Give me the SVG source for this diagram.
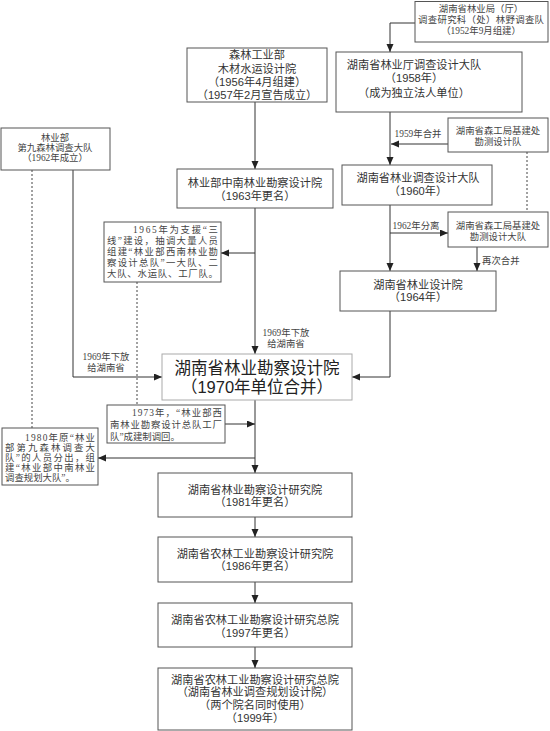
<svg xmlns="http://www.w3.org/2000/svg" width="550" height="731" viewBox="0 0 550 731">
<style>
.bg{fill:#fff}
.box{fill:#fff;stroke:#555;stroke-width:1}
.mbox{fill:#fff;stroke:#aaa;stroke-width:1}
.t{font-family:"Liberation Sans","Noto Sans CJK SC",sans-serif;font-size:11.2px;fill:#333;text-anchor:middle}
.tm{font-family:"Liberation Sans","Noto Sans CJK SC",sans-serif;font-size:16.5px;fill:#222;text-anchor:middle}
.s{font-family:"Liberation Serif","Noto Sans CJK SC",serif;font-size:9.4px;fill:#444}
.sc{font-family:"Liberation Serif","Noto Sans CJK SC",serif;font-size:9.4px;fill:#444;text-anchor:middle}
.ln{fill:none;stroke:#333;stroke-width:1}
.ar{fill:none;stroke:#333;stroke-width:1;marker-end:url(#a)}
.dash{fill:none;stroke:#444;stroke-width:1;stroke-dasharray:2,2}
</style>
<defs>
<marker id="a" markerUnits="userSpaceOnUse" markerWidth="9" markerHeight="8" refX="8" refY="3.5" orient="auto">
<path d="M0,0 L8,3.5 L0,7 z" fill="#222"/>
</marker>
</defs>
<rect class="bg" x="0" y="0" width="550" height="731"/>

<g id="connectors">
<path class="ar" d="M415,23 H390 V52"/>
<path class="ar" d="M255,102 V169"/>
<path class="ar" d="M390,112 V165"/>
<path class="ar" d="M448,144 H391"/>
<path class="ar" d="M390,205 V271"/>
<path class="ar" d="M390,233 H448"/>
<path class="ar" d="M477,247 V271"/>
<path class="ar" d="M255,208 V354"/>
<path class="ar" d="M255,253 H221"/>
<path class="ar" d="M73,170 V377 H162"/>
<path class="ar" d="M390,311 V377 H352"/>
<path class="ar" d="M255,400 V473"/>
<path class="ar" d="M225,424 H255"/>
<path class="ar" d="M255,458 H98"/>
<path class="ar" d="M255,517 V537"/>
<path class="ar" d="M255,582 V603"/>
<path class="ar" d="M255,647 V668"/>
<path class="dash" d="M32,170 V428"/>
<path class="dash" d="M137,282 V405"/>
<path class="dash" d="M527,152 V212"/>
</g>

<g id="labels">
<text class="sc" x="418" y="136.5">1959年合并</text>
<text class="sc" x="416" y="228.5">1962年分离</text>
<text class="s" x="482" y="263.5">再次合并</text>
<text class="sc" x="286" y="335.5">1969年下放</text>
<text class="sc" x="286" y="346.5">给湖南省</text>
<text class="sc" x="106" y="359.5">1969年下放</text>
<text class="sc" x="106" y="370.5">给湖南省</text>
</g>

<g id="n1952">
<rect class="box" x="415" y="1.5" width="133" height="40.5"/>
<text class="sc" x="481" y="12">湖南省林业局（厅）</text>
<text class="sc" x="481" y="23" textLength="126" lengthAdjust="spacing">调查研究科（处）林野调查队</text>
<text class="sc" x="481" y="34">（1952年9月组建）</text>
</g>

<g id="n1956">
<rect class="box" x="187" y="48" width="140" height="54"/>
<text class="t" x="257" y="59">森林工业部</text>
<text class="t" x="257" y="72.5">木材水运设计院</text>
<text class="t" x="257" y="86">（1956年4月组建）</text>
<text class="t" x="257" y="99">（1957年2月宣告成立）</text>
</g>

<g id="n1958">
<rect class="box" x="336" y="52" width="186" height="60"/>
<text class="t" x="414" y="69">湖南省林业厅调查设计大队</text>
<text class="t" x="414" y="82">（1958年）</text>
<text class="t" x="414" y="97">（成为独立法人单位）</text>
</g>

<g id="n1962a">
<rect class="box" x="1" y="128" width="109" height="42"/>
<text class="sc" x="55" y="141">林业部</text>
<text class="sc" x="55" y="151">第九森林调查大队</text>
<text class="sc" x="55" y="161">（1962年成立）</text>
</g>

<g id="n1959">
<rect class="box" x="448" y="118" width="100" height="34"/>
<text class="sc" x="498" y="133.5">湖南省森工局基建处</text>
<text class="sc" x="498" y="144.5">勘测设计队</text>
</g>

<g id="n1963">
<rect class="box" x="177" y="169" width="156" height="39"/>
<text class="t" x="255" y="187">林业部中南林业勘察设计院</text>
<text class="t" x="255" y="200">（1963年更名）</text>
</g>

<g id="n1960">
<rect class="box" x="342" y="165" width="150" height="40"/>
<text class="t" x="418" y="182">湖南省林业调查设计大队</text>
<text class="t" x="418" y="195">（1960年）</text>
</g>

<g id="n1962b">
<rect class="box" x="448" y="212" width="100" height="35"/>
<text class="sc" x="498" y="228.5">湖南省森工局基建处</text>
<text class="sc" x="498" y="239.5">勘测设计大队</text>
</g>

<g id="n1965note">
<rect class="box" x="104" y="222" width="117" height="60"/>
<text class="s" x="133" y="232.5" textLength="85" lengthAdjust="spacing">1965年为支援“三</text>
<text class="s" x="107" y="243.5" textLength="111" lengthAdjust="spacing">线”建设，抽调大量人员</text>
<text class="s" x="107" y="254.5" textLength="111" lengthAdjust="spacing">组建“林业部西南林业勘</text>
<text class="s" x="107" y="265.5" textLength="111" lengthAdjust="spacing">察设计总队”一大队、二</text>
<text class="s" x="107" y="276.5" textLength="111" lengthAdjust="spacing">大队、水运队、工厂队。</text>
</g>

<g id="n1964">
<rect class="box" x="340" y="271" width="156" height="40"/>
<text class="t" x="418" y="289">湖南省林业设计院</text>
<text class="t" x="418" y="301">（1964年）</text>
</g>

<g id="n1970">
<rect class="mbox" x="162" y="354" width="190" height="46"/>
<text class="tm" x="257" y="374">湖南省林业勘察设计院</text>
<text class="tm" x="257" y="393">（1970年单位合并）</text>
</g>

<g id="n1973note">
<rect class="box" x="107" y="405" width="118" height="38"/>
<text class="s" x="132" y="415.5" textLength="90" lengthAdjust="spacing">1973年，“林业部西</text>
<text class="s" x="110" y="427.5" textLength="112" lengthAdjust="spacing">南林业勘察设计总队工厂</text>
<text class="s" x="110" y="439.5">队”成建制调回。</text>
</g>

<g id="n1980note">
<rect class="box" x="2" y="428" width="96" height="57"/>
<text class="s" x="25" y="440.5" textLength="70" lengthAdjust="spacing">1980年原“林业</text>
<text class="s" x="5" y="450.5" textLength="90" lengthAdjust="spacing">部第九森林调查大</text>
<text class="s" x="5" y="460.5" textLength="90" lengthAdjust="spacing">队”的人员分出，组</text>
<text class="s" x="5" y="470.5" textLength="90" lengthAdjust="spacing">建“林业部中南林业</text>
<text class="s" x="5" y="480.5">调查规划大队”。</text>
</g>

<g id="n1981">
<rect class="box" x="158" y="473" width="194" height="44"/>
<text class="t" x="255" y="494">湖南省林业勘察设计研究院</text>
<text class="t" x="255" y="506">（1981年更名）</text>
</g>

<g id="n1986">
<rect class="box" x="158" y="537" width="194" height="45"/>
<text class="t" x="255" y="558">湖南省农林工业勘察设计研究院</text>
<text class="t" x="255" y="570">（1986年更名）</text>
</g>

<g id="n1997">
<rect class="box" x="158" y="603" width="194" height="44"/>
<text class="t" x="255" y="624">湖南省农林工业勘察设计研究总院</text>
<text class="t" x="255" y="637">（1997年更名）</text>
</g>

<g id="n1999">
<rect class="box" x="158" y="668" width="194" height="62"/>
<text class="t" x="255" y="684">湖南省农林工业勘察设计研究总院</text>
<text class="t" x="255" y="696">（湖南省林业调查规划设计院）</text>
<text class="t" x="255" y="709">（两个院名同时使用）</text>
<text class="t" x="255" y="722">（1999年）</text>
</g>
</svg>
